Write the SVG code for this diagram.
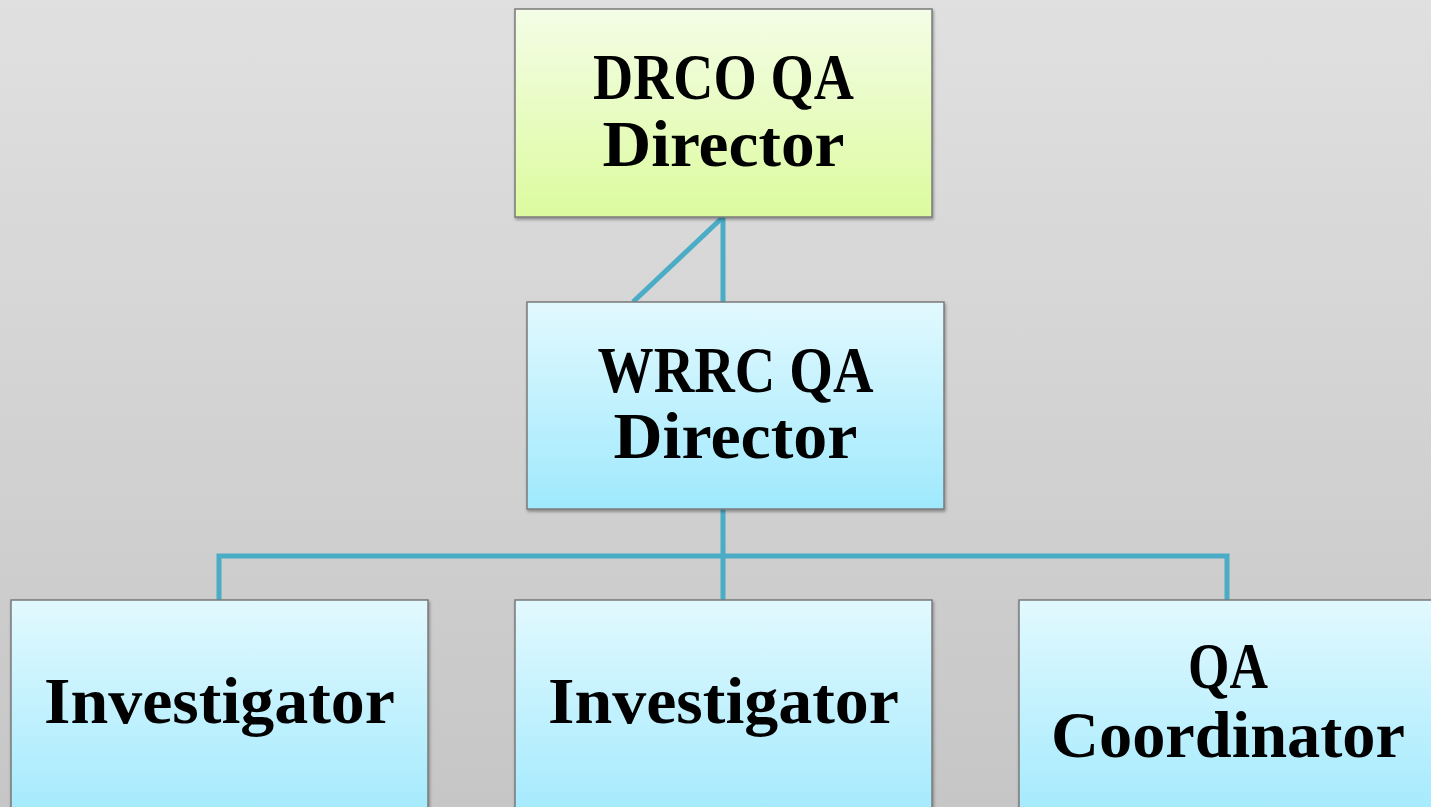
<svg xmlns="http://www.w3.org/2000/svg" width="1431" height="807" viewBox="0 0 1431 807">
<defs>
<linearGradient id="bg" x1="0" y1="0" x2="0" y2="1"><stop offset="0" stop-color="#e0e0e0"/><stop offset="1" stop-color="#c6c6c6"/></linearGradient>
<linearGradient id="green" x1="0" y1="0" x2="0" y2="1"><stop offset="0" stop-color="#f4fde6"/><stop offset="1" stop-color="#dcfb9e"/></linearGradient>
<linearGradient id="blue" x1="0" y1="0" x2="0" y2="1"><stop offset="0" stop-color="#e2f9fe"/><stop offset="1" stop-color="#9fe9fd"/></linearGradient>
<filter id="sh" x="-5%" y="-5%" width="110%" height="115%"><feDropShadow dx="1" dy="2" stdDeviation="1.5" flood-color="#000" flood-opacity="0.35"/></filter>
<style>
.box{stroke:#7a7a7a;stroke-width:1.5;filter:url(#sh)}
.t{font-family:"Liberation Serif","DejaVu Serif",serif;font-weight:bold;font-size:66px;fill:#000;text-anchor:middle}
.c{fill:none;stroke:#4bacc6;stroke-width:5}
</style>
</defs>
<rect width="1431" height="807" fill="url(#bg)"/>
<g id="connectors">
<line class="c" x1="723" y1="217" x2="723" y2="302"/>
<line class="c" x1="723" y1="217" x2="633" y2="302"/>
<line class="c" x1="723" y1="509" x2="723" y2="600"/>
<polyline class="c" points="219,600 219,556 1227,556 1227,600"/>
</g>
<g id="drco">
<rect class="box" x="515" y="9" width="417" height="208" fill="url(#green)"/>
<text class="t" x="723.5" y="99" textLength="261" lengthAdjust="spacingAndGlyphs">DRCO QA</text>
<text class="t" x="723.5" y="166" textLength="242" lengthAdjust="spacingAndGlyphs">Director</text>
</g>
<g id="wrrc">
<rect class="box" x="527" y="302" width="417" height="207" fill="url(#blue)"/>
<text class="t" x="735.5" y="392" textLength="276" lengthAdjust="spacingAndGlyphs">WRRC QA</text>
<text class="t" x="735.5" y="458" textLength="244" lengthAdjust="spacingAndGlyphs">Director</text>
</g>
<g id="inv1">
<rect class="box" x="11" y="600" width="417" height="230" fill="url(#blue)"/>
<text class="t" x="219.5" y="723" textLength="351" lengthAdjust="spacingAndGlyphs">Investigator</text>
</g>
<g id="inv2">
<rect class="box" x="515" y="600" width="417" height="230" fill="url(#blue)"/>
<text class="t" x="723.5" y="723" textLength="351" lengthAdjust="spacingAndGlyphs">Investigator</text>
</g>
<g id="qac">
<rect class="box" x="1019" y="600" width="417" height="230" fill="url(#blue)"/>
<text class="t" x="1228" y="688" textLength="80" lengthAdjust="spacingAndGlyphs">QA</text>
<text class="t" x="1228" y="757" textLength="354" lengthAdjust="spacingAndGlyphs">Coordinator</text>
</g>
</svg>
